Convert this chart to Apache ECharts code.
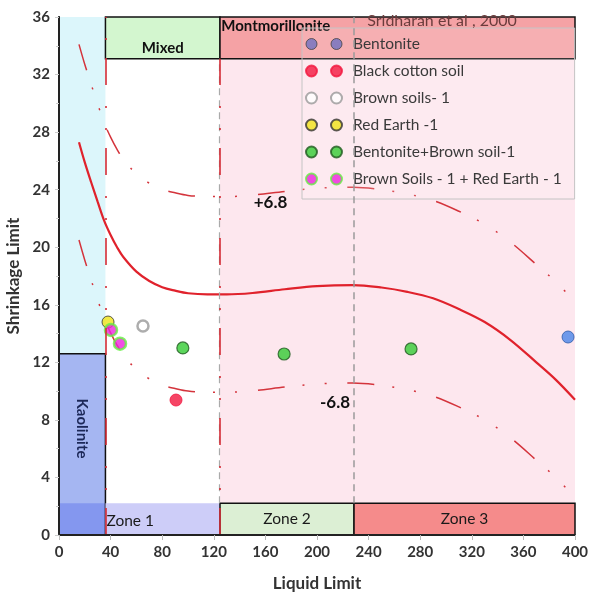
<!DOCTYPE html>
<html><head><meta charset="utf-8">
<script src="https://cdn.jsdelivr.net/npm/echarts@6/dist/echarts.min.js"></script>
<style>html,body{margin:0;padding:0;background:#fff}#c{width:589px;height:592px}</style>
</head><body><div id="c"></div>
<script>
// ---- data ----
const fitLL   = [15.5,20,25,30,35,40,45,50,60,70,80,90,100,115,130,150,175,200,228,250,270,290,310,330,350,370,385,400];
const fitSL   = [27.3,25.9,24.5,23.15,21.85,20.85,20.0,19.3,18.3,17.65,17.22,16.98,16.8,16.72,16.72,16.82,17.08,17.3,17.37,17.2,16.9,16.45,15.7,14.8,13.55,12.0,10.8,9.4];
const upperSL = [34.1,32.7,31.3,29.95,28.65,27.65,26.8,26.1,25.1,24.45,24.02,23.78,23.6,23.52,23.52,23.62,23.88,24.1,24.17,24.0,23.7,23.25,22.5,21.6,20.35,18.8,17.6,16.2];
const lowerSL = [20.5,19.1,17.7,16.35,15.05,14.05,13.2,12.5,11.5,10.85,10.42,10.18,10.0,9.92,9.92,10.02,10.28,10.5,10.57,10.4,10.1,9.65,8.9,8.0,6.75,5.2,4.0,2.6];

const bentonite   = [[394.6,13.76]];
const blackCotton = [[90.7,9.38]];
const brownSoils1 = [[65.1,14.52]];
const redEarth1   = [[38.0,14.8]];
const bentBrown   = [[96,13.0],[174.5,12.58],[272.9,12.93]];
const brownRed    = [[40.3,14.25],[47.3,13.3]];

const seriesNames = ['Bentonite','Black cotton soil','Brown soils- 1','Red Earth -1','Bentonite+Brown soil-1','Brown Soils - 1 + Red Earth - 1'];

// zone boundaries (Liquid limit) and heights (Shrinkage limit)
const llKaol = 36, llMixed = 124.8, llZone3 = 228.7, llMax = 400;
const slKaolTop = 12.6, slZoneTop = 2.2, slBoxBottom = 33.1, slMax = 36;
const bandLabels = [{text:'+6.8', coord:[164,23.1]},{text:'-6.8', coord:[214,9.2]}];
const xTicks = {min:0,max:400,interval:40};
const yTicks = {min:0,max:36,interval:4};

const FONT = 'Lato, "Open Sans", sans-serif';
const zip = (a,b)=>a.map((v,i)=>[v,b[i]]);
const dashDot = [27,18,2,20,2,21];
const icon2 = 'path://M0,5.5a5.5,5.5 0 1,0 11,0a5.5,5.5 0 1,0 -11,0zM25,5.5a5.5,5.5 0 1,0 11,0a5.5,5.5 0 1,0 -11,0z';

const lblBold = (txt, extra)=>Object.assign({show:true, formatter:txt, fontFamily:FONT, fontWeight:'bold', fontSize:15, color:'#111'}, extra||{});
const area = (x1,y1,x2,y2,style,label)=>[{coord:[x1,y1], itemStyle:style, label:label||{show:false}},{coord:[x2,y2]}];

const chart = echarts.init(document.getElementById('c'), null, {renderer:'canvas'});
chart.setOption({
  animation:false,
  backgroundColor:'#fff',
  title:{text:'Sridharan et al , 2000', left:437, top:8, textAlign:'center',
    textStyle:{fontFamily:FONT, fontSize:16, fontWeight:'normal', color:'#6a3c3c'}},
  grid:{left:59, right:14, top:17, bottom:57, containLabel:false, outerBoundsMode:'none'},
  legend:{
    orient:'vertical', left:302, top:28, padding:[8,13,12,3],
    itemWidth:48, itemHeight:11, itemGap:11, icon:icon2, symbolKeepAspect:true,
    backgroundColor:'rgba(255,255,255,0.15)', borderColor:'#c4c4c4', borderWidth:1,
    textStyle:{fontFamily:FONT, fontSize:15.5, color:'#3a3a3a', lineHeight:14},
    data:[
      {name:seriesNames[0], itemStyle:{color:'#6f70c0', borderColor:'#444', borderWidth:1}},
      {name:seriesNames[1]},{name:seriesNames[2]},{name:seriesNames[3]},{name:seriesNames[4]},{name:seriesNames[5]}
    ]
  },
  xAxis:[{
    type:'value', min:xTicks.min, max:xTicks.max, interval:xTicks.interval, z:5,
    name:'Liquid Limit', nameLocation:'middle', nameGap:40,
    nameTextStyle:{fontFamily:FONT, fontWeight:'bold', fontSize:17, color:'#333'},
    axisLine:{show:true, lineStyle:{color:'#8a9696', width:2}},
    axisTick:{show:true, length:5, lineStyle:{color:'#bbb'}},
    axisLabel:{fontFamily:FONT, fontWeight:'bold', fontSize:15, color:'#333', margin:10},
    splitLine:{show:false}
  },{
    type:'value', position:'top', min:xTicks.min, max:xTicks.max, z:5,
    axisLine:{show:true, lineStyle:{color:'#222', width:2}},
    axisTick:{show:false}, axisLabel:{show:false}, splitLine:{show:false}
  }],
  yAxis:[{
    type:'value', min:yTicks.min, max:yTicks.max, interval:yTicks.interval, z:5,
    name:'Shrinkage Limit', nameLocation:'middle', nameGap:33,
    nameTextStyle:{fontFamily:FONT, fontWeight:'bold', fontSize:17, color:'#333'},
    axisLine:{show:true, lineStyle:{color:'#8a9696', width:2}},
    axisTick:{show:true, length:4, lineStyle:{color:'#ccc'}},
    minorTick:{show:true, splitNumber:2, length:3, lineStyle:{color:'#ccc'}},
    axisLabel:{fontFamily:FONT, fontWeight:'bold', fontSize:15, color:'#333', margin:9},
    splitLine:{show:false}
  },{
    type:'value', position:'right', min:yTicks.min, max:yTicks.max, z:5,
    axisLine:{show:true, lineStyle:{color:'#222', width:2}},
    axisTick:{show:false}, axisLabel:{show:false}, splitLine:{show:false}
  }],
  series:[
    { // regions
      type:'scatter', data:[], silent:true, z:1,
      markArea:{silent:true, data:[
        area(0, slKaolTop, llKaol, slMax, {color:'#dcf6fb'}),
        area(llMixed, 0, llMax, slBoxBottom, {color:'#fde7ee'}),
        area(0, 0, llKaol, slKaolTop, {color:'#a5b6f2'}),
        area(0, 0, llKaol, slZoneTop, {color:'#8497ef'}),
        area(0, 0, llKaol, slKaolTop, {color:'rgba(0,0,0,0)', borderColor:'#111', borderWidth:1.5}),
        area(0, slZoneTop, llKaol, slKaolTop, {color:'rgba(0,0,0,0)'},
             lblBold('Kaolinite', {position:'inside', rotate:-90, color:'#1c2858'})),
        area(llKaol, 0, llMixed, slZoneTop, {color:'#cdcdf8'},
             {show:true, formatter:'Zone 1', position:'insideLeft', distance:1, offset:[0,2], fontFamily:FONT, fontSize:15.5, color:'#1a1a1a'}),
        area(llMixed, 0, llZone3, slZoneTop, {color:'#dcefd4', borderColor:'#111', borderWidth:1.5},
             {show:true, formatter:'Zone 2', position:'inside', fontFamily:FONT, fontSize:15.5, color:'#1a1a1a'}),
        area(llZone3, 0, llMax, slZoneTop, {color:'#f58b8b', borderColor:'#111', borderWidth:1.5},
             {show:true, formatter:'Zone 3', position:'inside', fontFamily:FONT, fontSize:15.5, color:'#1a1a1a'}),
        area(llKaol, slBoxBottom, llMixed, slMax, {color:'#d3f6cf', borderColor:'#111', borderWidth:1.5},
             lblBold('Mixed', {position:'insideBottom', distance:4})),
        area(llMixed, slBoxBottom, llMax, slMax, {color:'#f5a2a5', borderColor:'#111', borderWidth:1.5},
             lblBold('Montmorillonite', {position:'insideTopLeft', distance:2}))
      ]}
    },
    { // vertical boundary lines
      type:'scatter', data:[], silent:true, z:2,
      markLine:{silent:true, symbol:'none', label:{show:false}, data:[
        [{coord:[llZone3, slZoneTop], lineStyle:{color:'#9a9a9a', width:1.5, type:[7,5]}},{coord:[llZone3, slMax]}],
        [{coord:[llMixed-0.8, slZoneTop], lineStyle:{color:'#aaaaaa', width:1.2, type:[7,5]}},{coord:[llMixed-0.8, slBoxBottom]}],
        [{coord:[llKaol+0.5, 0], lineStyle:{color:'#d42c36', width:1.6, type:dashDot}},{coord:[llKaol+0.5, slMax]}],
        [{coord:[llMixed, 0], lineStyle:{color:'#d42c36', width:1.6, type:dashDot}},{coord:[llMixed, slBoxBottom]}]
      ]}
    },
    { type:'line', data:zip(fitLL, upperSL), showSymbol:false, smooth:0.35, z:3, silent:true,
      lineStyle:{color:'#d4343c', width:1.5, type:dashDot},
      markPoint:{symbolSize:0, silent:true, data:bandLabels.map(b=>({coord:b.coord, value:b.text,
        label:{show:true, formatter:b.text, fontFamily:FONT, fontWeight:'bold', fontSize:17, color:'#111'}}))}
    },
    { type:'line', data:zip(fitLL, lowerSL), showSymbol:false, smooth:0.35, z:3, silent:true,
      lineStyle:{color:'#d4343c', width:1.5, type:dashDot} },
    { type:'line', data:zip(fitLL, fitSL), showSymbol:false, smooth:0.35, z:3, silent:true,
      lineStyle:{color:'#e0222c', width:2.2} },
    { name:seriesNames[0], type:'scatter', data:bentonite, symbolSize:12, z:4,
      itemStyle:{color:'#4a86e8', borderColor:'#2c5aa8', borderWidth:1} },
    { name:seriesNames[1], type:'scatter', data:blackCotton, symbolSize:12, z:4,
      itemStyle:{color:'#f2173f', borderColor:'#f2173f', borderWidth:1} },
    { name:seriesNames[2], type:'scatter', data:brownSoils1, symbolSize:11, z:4,
      itemStyle:{color:'#ffffff', borderColor:'#999999', borderWidth:2.5} },
    { name:seriesNames[3], type:'scatter', data:redEarth1, symbolSize:12, z:4,
      itemStyle:{color:'#f0e318', borderColor:'#333', borderWidth:1} },
    { name:seriesNames[4], type:'scatter', data:bentBrown, symbolSize:12, z:4,
      itemStyle:{color:'#33cc33', borderColor:'#1f5a1f', borderWidth:1.2} },
    { name:seriesNames[5], type:'scatter', data:brownRed, symbolSize:12, z:4,
      itemStyle:{color:'#ee22dd', borderColor:'#66ee44', borderWidth:2.5} }
  ]
});
</script></body></html>
